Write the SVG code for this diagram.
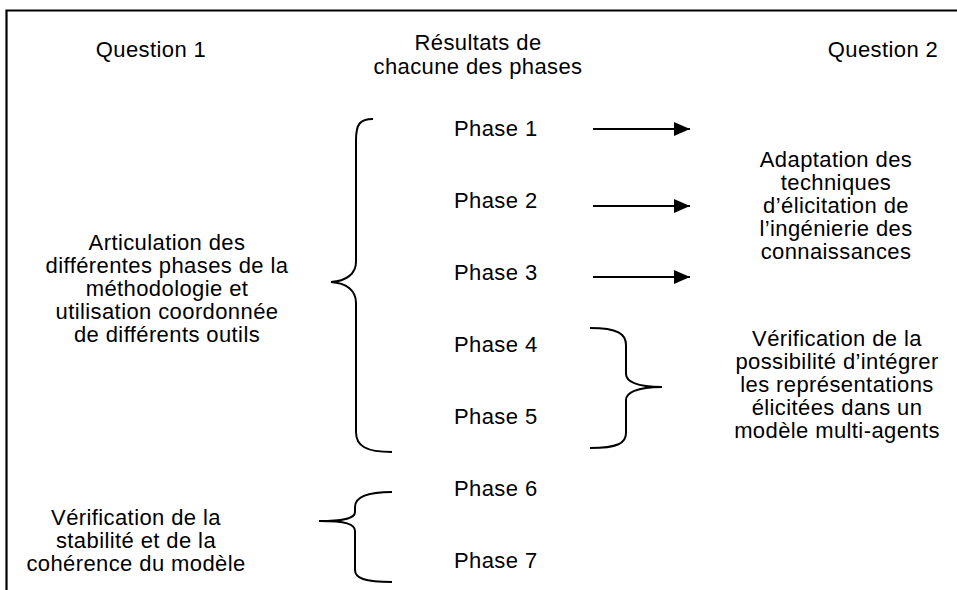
<svg xmlns="http://www.w3.org/2000/svg" width="957" height="590" viewBox="0 0 957 590">
  <style>
    text { font-family: "Liberation Sans", Arial, sans-serif; font-size: 22px; letter-spacing: 0.4px; fill: #000; }
    .mid { text-anchor: middle; }
    .brace { fill: none; stroke: #000; stroke-width: 2; }
    .frame { fill: none; stroke: #000; stroke-width: 2.2; }
    .arrow { stroke: #000; stroke-width: 2; marker-end: url(#head); }
  </style>
  <defs>
    <marker id="head" viewBox="0 0 16 14" refX="16" refY="7" markerWidth="16" markerHeight="14" markerUnits="userSpaceOnUse" orient="auto">
      <path d="M0,0 L16,7 L0,14 Z" fill="#000"/>
    </marker>
  </defs>

  <rect width="957" height="590" fill="#fff"/>

  <!-- open frame: top and left edges only -->
  <path class="frame" d="M6.5,590 L6.5,10.5 L957,10.5"/>

  <!-- column headings -->
  <g id="heading-q1"><text class="mid" x="151" y="57">Question 1</text></g>
  <g id="heading-results">
    <text class="mid" x="478" y="50">Résultats de</text>
    <text class="mid" x="478" y="74">chacune des phases</text>
  </g>
  <g id="heading-q2"><text class="mid" x="883" y="57">Question 2</text></g>

  <!-- phases -->
  <g id="phase1"><text x="454" y="136">Phase 1</text></g>
  <g id="phase2"><text x="454" y="208">Phase 2</text></g>
  <g id="phase3"><text x="454" y="280">Phase 3</text></g>
  <g id="phase4"><text x="454" y="352">Phase 4</text></g>
  <g id="phase5"><text x="454" y="424">Phase 5</text></g>
  <g id="phase6"><text x="454" y="496">Phase 6</text></g>
  <g id="phase7"><text x="454" y="568">Phase 7</text></g>

  <!-- left-hand groupings -->
  <g id="articulation">
    <text class="mid" x="167" y="250">Articulation des</text>
    <text class="mid" x="167" y="273">différentes phases de la</text>
    <text class="mid" x="167" y="296">méthodologie et</text>
    <text class="mid" x="167" y="319">utilisation coordonnée</text>
    <text class="mid" x="167" y="342">de différents outils</text>
  </g>
  <g id="stabilite">
    <text class="mid" x="136" y="525">Vérification de la</text>
    <text class="mid" x="136" y="548">stabilité et de la</text>
    <text class="mid" x="136" y="571">cohérence du modèle</text>
  </g>

  <!-- right-hand groupings -->
  <g id="adaptation">
    <text class="mid" x="836" y="167">Adaptation des</text>
    <text class="mid" x="836" y="190">techniques</text>
    <text class="mid" x="836" y="213">d’élicitation de</text>
    <text class="mid" x="836" y="236">l’ingénierie des</text>
    <text class="mid" x="836" y="259">connaissances</text>
  </g>
  <g id="integration">
    <text class="mid" x="837" y="346">Vérification de la</text>
    <text class="mid" x="837" y="369">possibilité d’intégrer</text>
    <text class="mid" x="837" y="392">les représentations</text>
    <text class="mid" x="837" y="415">élicitées dans un</text>
    <text class="mid" x="837" y="438">modèle multi-agents</text>
  </g>

  <!-- braces and arrows -->
  <g id="connectors">
    <path class="brace" d="M373,119 C360,119 356,124 356,140 L356,262 C356,274 346,281 331,282 C346,283 356,290 356,303 L356,432 C356,446 366,452 392,452"/>
    <path class="brace" d="M590,328 C618,328 626,334 626,345 L626,374 C626,381 636,387 662,387 C636,387 626,393 626,400 L626,433 C626,443 618,448 590,448"/>
    <path class="brace" d="M392,492 C364,492 355,498 355,507 L355,512 C355,518 346,521 319,521 C346,521 355,524 355,531 L355,570 C355,578 364,582 392,582"/>
    <line class="arrow" x1="593" y1="129" x2="690" y2="129"/>
    <line class="arrow" x1="593" y1="206" x2="690" y2="206"/>
    <line class="arrow" x1="593" y1="277" x2="690" y2="277"/>
  </g>
</svg>
